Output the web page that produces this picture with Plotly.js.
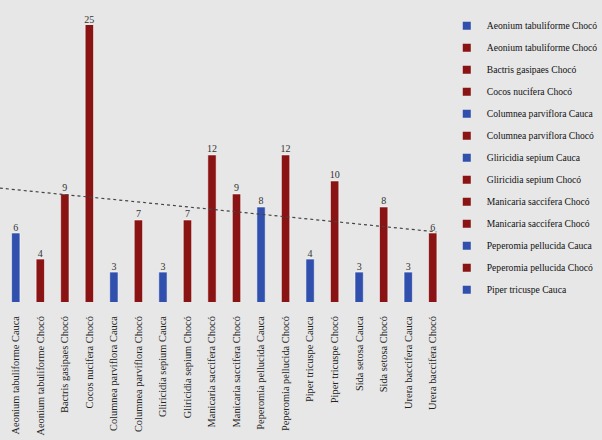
<!DOCTYPE html>
<html>
<head>
<meta charset="utf-8">
<script src="https://cdn.plot.ly/plotly-3.0.1.min.js"></script>
<style>html,body{margin:0;padding:0;background:#e7e7e7;}</style>
</head>
<body>
<div id="chart" style="width:602px;height:440px;"></div>
<script>
const categories = [
  "Aeonium tabuliforme Cauca","Aeonium tabuliforme Chocó","Bactris gasipaes Chocó",
  "Cocos nucifera Chocó","Columnea parviflora Cauca","Columnea parviflora Chocó",
  "Gliricidia sepium Cauca","Gliricidia sepium Chocó","Manicaria saccifera Chocó",
  "Manicaria saccifera Chocó","Peperomia pellucida Cauca","Peperomia pellucida Chocó",
  "Piper tricuspe Cauca","Piper tricuspe Chocó","Sida setosa Cauca","Sida setosa Chocó",
  "Urera baccifera Cauca","Urera baccifera Chocó"
];
const values = [6,4,9,25,3,7,3,7,12,9,8,12,4,10,3,8,3,6];
const regions = ["Cauca","Chocó","Chocó","Chocó","Cauca","Chocó","Cauca","Chocó","Chocó",
  "Chocó","Cauca","Chocó","Cauca","Chocó","Cauca","Chocó","Cauca","Chocó"];
const legendNames = [
  "Aeonium tabuliforme Chocó","Aeonium tabuliforme Chocó","Bactris gasipaes Chocó",
  "Cocos nucifera Chocó","Columnea parviflora Cauca","Columnea parviflora Chocó",
  "Gliricidia sepium Cauca","Gliricidia sepium Chocó","Manicaria saccifera Chocó",
  "Manicaria saccifera Chocó","Peperomia pellucida Cauca","Peperomia pellucida Chocó",
  "Piper tricuspe Cauca"
];
const colors = {"Cauca":"#3150ad","Chocó":"#8a1414"};

const idx = values.map((v,i)=>i);
const yMin = 0.7, yMax = 21.98;
const serif = "Liberation Serif";

const traces = [];
traces.push({
  type:"bar", x:idx, y:values, width:0.34,
  marker:{color:regions.map(r=>colors[r]), line:{color:"rgba(255,255,255,0.7)",width:0.8}},
  showlegend:false, hoverinfo:"x+y"
});
traces.push({
  type:"scatter", mode:"text", x:idx, y:values.map(v=>Math.min(v,yMax)),
  text:values.map(String), textposition:"top center", cliponaxis:false,
  textfont:{family:serif,size:10,color:"#333"}, showlegend:false, hoverinfo:"skip"
});
const n = values.length;
const mx = idx.reduce((a,b)=>a+b,0)/n, my = values.reduce((a,b)=>a+b,0)/n;
let sxy=0, sxx=0;
idx.forEach((x,i)=>{sxy+=(x-mx)*(values[i]-my); sxx+=(x-mx)*(x-mx);});
const slope = sxy/sxx, icpt = my - slope*mx;
const tx = [-0.65, 17.15];
traces.push({
  type:"scatter", mode:"lines", x:tx, y:tx.map(x=>icpt+slope*x),
  line:{color:"#444",width:1.2,dash:"dot"}, showlegend:false, hoverinfo:"skip"
});
legendNames.forEach((nm,i)=>{
  traces.push({
    type:"scatter", mode:"markers", x:[null], y:[null], name:nm,
    marker:{symbol:"square", size:8, color:colors[regions[i]]},
    legendgroup:"g"+i, showlegend:true
  });
});

const layout = {
  width:602, height:440,
  paper_bgcolor:"#e7e7e7", plot_bgcolor:"#e7e7e7",
  font:{family:serif},
  margin:{l:0, r:157, t:25, b:138, autoexpand:false},
  xaxis:{range:[-0.643,17.5], tickvals:idx, ticktext:categories, tickangle:-90,
    showgrid:false, zeroline:false, showline:false, ticks:"", ticklabelstandoff:11,
    automargin:false,
    tickfont:{family:serif,size:10.4,color:"#222"}, fixedrange:true},
  yaxis:{range:[yMin,yMax], visible:false, fixedrange:true},
  showlegend:true,
  legend:{x:1.004, xanchor:"left", y:1.05, yanchor:"top", bgcolor:"rgba(0,0,0,0)",
    font:{family:serif,size:9.6,color:"#111"}, tracegroupgap:3.0, traceorder:"grouped",
    itemwidth:30, maxheight:440},
  bargap:0
};
Plotly.newPlot("chart", traces, layout, {displayModeBar:false, staticPlot:true});
</script>
</body>
</html>
